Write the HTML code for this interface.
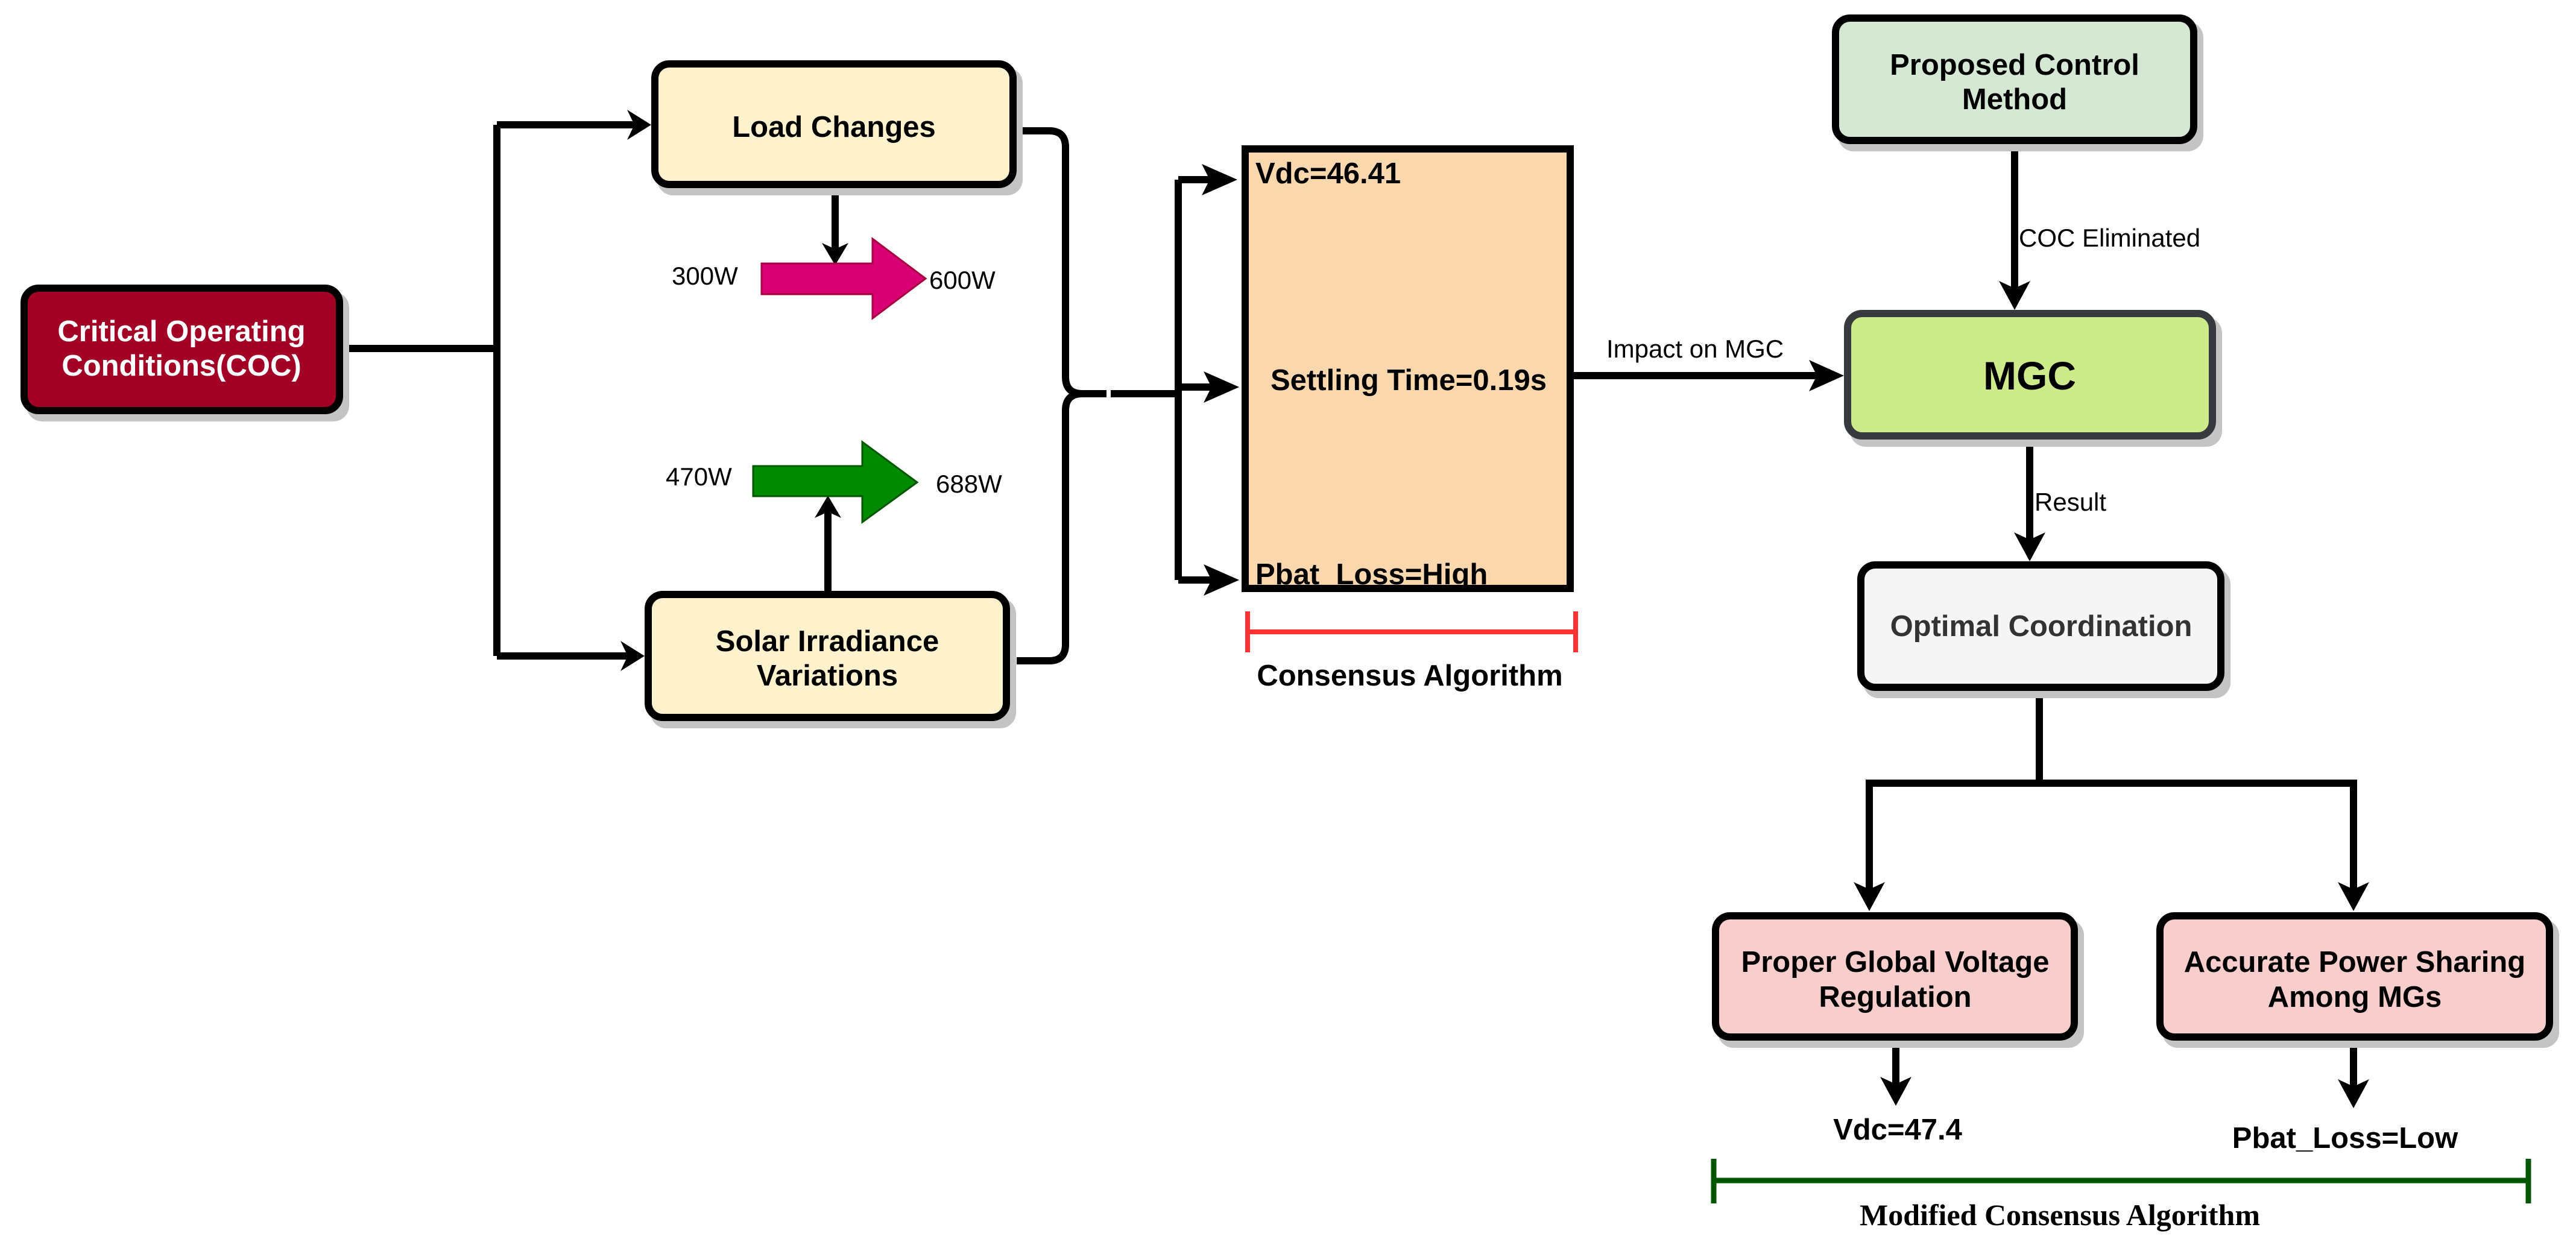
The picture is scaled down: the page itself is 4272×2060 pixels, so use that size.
<!DOCTYPE html>
<html><head><meta charset="utf-8"><style>
html,body{margin:0;padding:0;background:#fff;}
svg{display:block;}
</style></head><body>
<svg width="4272" height="2060" viewBox="0 0 4272 2060" xmlns="http://www.w3.org/2000/svg" font-family="Liberation Sans, Arial, sans-serif">
<g fill="none" stroke="#000" stroke-width="12">
<path d="M569 578 H824 M824 207 V1088 M824 207 H1060 M824 1088 H1050"/>
<path d="M1385 312 V425"/>
<path d="M1373 980 V835"/>
<path d="M1686 217 H1740 Q1767 217 1767 244 V625 Q1767 653 1795 653 H1835"/>
<path d="M1686 1096 H1740 Q1767 1096 1767 1069 V681 Q1767 653 1795 653"/>
<path d="M1842 653 H1954 M1954 298 V962 M1954 298 H2030 M1954 642 H2030 M1954 962 H2030"/>
<path d="M2610 623 H3035"/>
<path d="M3341 239 V492"/>
<path d="M3366 729 V908"/>
<path d="M3382 1146 V1299 M3100 1299 H3903 M3100 1293 V1490 M3903 1293 V1490"/>
<path d="M3144 1726 V1812 M3903 1726 V1812"/>
</g>
<g fill="#000">
<polygon points="1080,207 1040,182 1052,207 1040,232"/>
<polygon points="1069,1088 1029,1063 1041,1088 1029,1113"/>
<polygon points="1385,440 1363,403 1385,413 1407,403"/>
<polygon points="1373,822 1351,859 1373,849 1395,859"/>
<polygon points="2052,298 1993,272 2006,298 1993,324"/>
<polygon points="2055,642 1996,616 2009,642 1996,668"/>
<polygon points="2055,962 1996,936 2009,962 1996,988"/>
<polygon points="3058,623 3000,597 3013,623 3000,649"/>
<polygon points="3341,514 3315,466 3341,478 3367,466"/>
<polygon points="3366,931 3340,883 3366,895 3392,883"/>
<polygon points="3100,1511 3074,1463 3100,1475 3126,1463"/>
<polygon points="3903,1511 3877,1463 3903,1475 3929,1463"/>
<polygon points="3144,1834 3118,1786 3144,1798 3170,1786"/>
<polygon points="3903,1838 3877,1790 3903,1802 3929,1790"/>
</g>
<g fill="#c4c4c4">
<rect x="44" y="484" width="535" height="215" rx="26"/>
<rect x="1090" y="112" width="606" height="212" rx="26"/>
<rect x="1079" y="992" width="606" height="216" rx="26"/>
<rect x="3048" y="36" width="606" height="215" rx="26"/>
<rect x="3068" y="526" width="617" height="215" rx="26"/>
<rect x="3090" y="943" width="609" height="215" rx="26"/>
<rect x="2849" y="1525" width="607" height="213" rx="26"/>
<rect x="3586" y="1525" width="658" height="213" rx="26"/>
</g>
<g stroke-width="12">
<rect x="40" y="478" width="523" height="203" rx="24" fill="#a20025" stroke="#000"/>
<rect x="1086" y="106" width="594" height="200" rx="24" fill="#fff2cc" stroke="#000"/>
<rect x="1075" y="986" width="594" height="204" rx="24" fill="#fff2cc" stroke="#000"/>
<rect x="2065" y="247" width="539" height="729" fill="#fad7ac" stroke="#000"/>
<rect x="3044" y="30" width="594" height="203" rx="24" fill="#d5e8d4" stroke="#000"/>
<rect x="3064" y="520" width="605" height="203" rx="24" fill="#cdeb8b" stroke="#36393d"/>
<rect x="3086" y="937" width="597" height="203" rx="24" fill="#f5f5f5" stroke="#000"/>
<rect x="2845" y="1519" width="595" height="201" rx="24" fill="#f8cecc" stroke="#000"/>
<rect x="3582" y="1519" width="646" height="201" rx="24" fill="#f8cecc" stroke="#000"/>
</g>
<polygon points="1263,437 1447,437 1447,396 1535,462 1447,528 1447,488 1263,488" fill="#d80073" stroke="#a50040" stroke-width="3"/>
<polygon points="1249,773 1430,773 1430,733 1521,800 1430,866 1430,823 1249,823" fill="#008a00" stroke="#005700" stroke-width="3"/>
<path d="M2069 1048 H2613 M2069 1014 V1082 M2613 1014 V1082" stroke="#ff3333" stroke-width="8" fill="none"/>
<path d="M2842 1958 H4193 M2842 1922 V1996 M4193 1922 V1996" stroke="#005700" stroke-width="9" fill="none"/>
<g font-weight="bold" font-size="49" text-anchor="middle">
<text x="301" y="566" fill="#fff">Critical Operating</text>
<text x="301" y="623" fill="#fff">Conditions(COC)</text>
<text x="1383" y="227">Load Changes</text>
<text x="1372" y="1080">Solar Irradiance</text>
<text x="1372" y="1137">Variations</text>
<text x="3341" y="124">Proposed Control</text>
<text x="3341" y="181">Method</text>
<text x="3385" y="1055" fill="#333">Optimal Coordination</text>
<text x="3143" y="1612">Proper Global Voltage</text>
<text x="3143" y="1670">Regulation</text>
<text x="3905" y="1612">Accurate Power Sharing</text>
<text x="3905" y="1670">Among MGs</text>
<text x="2336" y="647">Settling Time=0.19s</text>
<text x="2338" y="1137">Consensus Algorithm</text>
<text x="3147" y="1890">Vdc=47.4</text>
<text x="3889" y="1904">Pbat_Loss=Low</text>
<text x="3366" y="646" font-size="66">MGC</text>
</g>
<g font-weight="bold" font-size="49">
<text x="2082" y="304">Vdc=46.41</text>
<text x="2082" y="969">Pbat_Loss=High</text>
</g>
<g font-size="42">
<text x="1114" y="472">300W</text>
<text x="1541" y="479">600W</text>
<text x="1104" y="805">470W</text>
<text x="1552" y="817">688W</text>
<text x="3348" y="409">COC Eliminated</text>
<text x="2664" y="593">Impact on MGC</text>
<text x="3374" y="847">Result</text>
</g>
<text x="3416" y="2032" text-anchor="middle" font-family="Liberation Serif, serif" font-weight="bold" font-size="50">Modified Consensus Algorithm</text>
</svg>
</body></html>
